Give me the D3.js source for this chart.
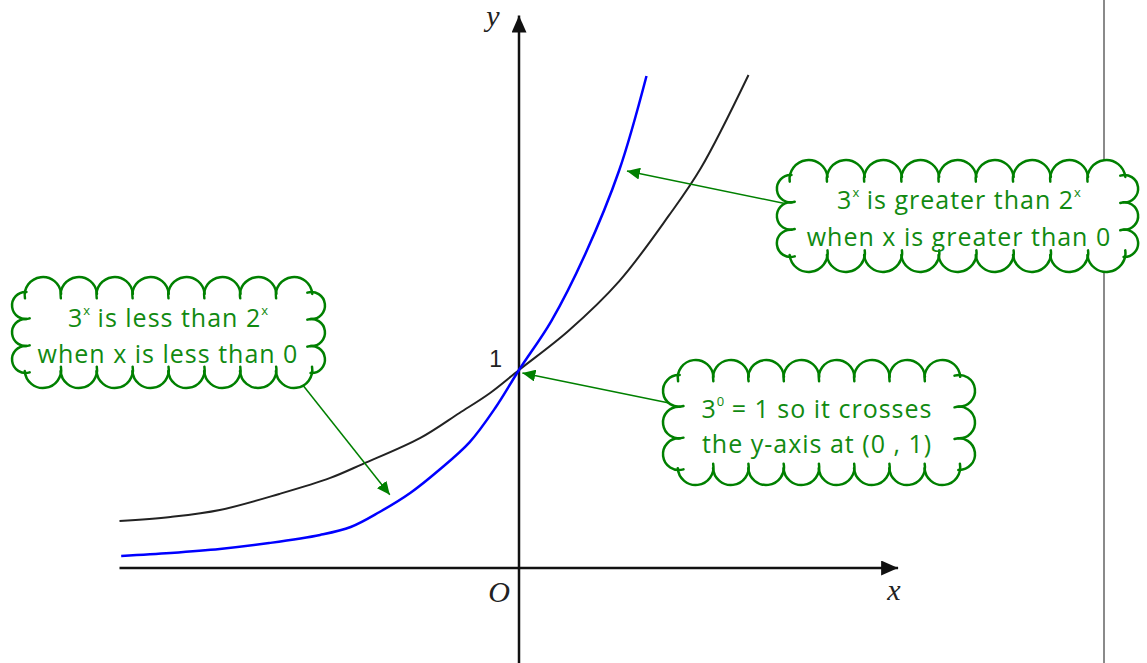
<!DOCTYPE html>
<html lang="en">
<head>
    <meta charset="UTF-8">
    <script src="https://d3js.org/d3.v7.min.js"></script>
    <style>
        body { margin: 0; background: #fff; }
        .cloud-text { font-family: "Open Sans", sans-serif; font-size: 25px; letter-spacing: 1px; fill: #118a11; }
        .axis-label { font-family: "Liberation Serif", serif; font-style: italic; font-size: 30px; fill: #222; }
    </style>
</head>
<body>
    <div id="chart"></div>
    <script>
        // curve y = 2^x (black)
        const x2 = [-2.35, -2.05, -1.76, -1.41, -1.11, -0.92, -0.58, -0.35, -0.17, 0, 0.29, 0.59, 0.88, 1.07, 1.35];
        const y2 = [0.237, 0.258, 0.293, 0.374, 0.455, 0.525, 0.657, 0.783, 0.884, 1, 1.197, 1.449, 1.778, 2.02, 2.49];
        // curve y = 3^x (blue)
        const x3 = [-2.34, -2.05, -1.76, -1.47, -1.17, -0.99, -0.82, -0.64, -0.47, -0.29, -0.14, 0, 0.19, 0.39, 0.59, 0.75];
        const y3 = [0.061, 0.076, 0.096, 0.126, 0.167, 0.207, 0.283, 0.379, 0.495, 0.636, 0.808, 1, 1.247, 1.586, 2.01, 2.485];
        const yTicks = [1];

        const W = 1147, H = 663;
        const ox = 519, oy = 568, ux = 170, uy = 198;

        const svg = d3.select("#chart").append("svg")
            .attr("width", W).attr("height", H);

        const x = d3.scaleLinear().domain([0, 1]).range([ox, ox + ux]);
        const y = d3.scaleLinear().domain([0, 1]).range([oy, oy - uy]);

        // page divider on the right
        svg.append("line")
            .attr("x1", 1104).attr("x2", 1104).attr("y1", 0).attr("y2", H)
            .attr("stroke", "#8a8a8a").attr("stroke-width", 2);

        const defs = svg.append("defs");
        function marker(id, len, wid, color) {
            defs.append("marker")
                .attr("id", id).attr("markerUnits", "userSpaceOnUse")
                .attr("viewBox", `0 ${-wid / 2} ${len} ${wid}`)
                .attr("refX", len).attr("refY", 0)
                .attr("markerWidth", len).attr("markerHeight", wid)
                .attr("orient", "auto")
                .append("path")
                .attr("d", `M0,${-wid / 2}L${len},0L0,${wid / 2}Z`)
                .attr("fill", color);
        }
        marker("axhead", 17, 15, "#111");
        marker("greenhead", 13, 12, "#008000");

        // axes
        const axes = svg.append("g");
        axes.append("line")
            .attr("x1", x(-2.35)).attr("x2", x(2.23)).attr("y1", y(0)).attr("y2", y(0))
            .attr("stroke", "#111").attr("stroke-width", 2.5).attr("marker-end", "url(#axhead)");
        axes.append("line")
            .attr("x1", x(0)).attr("x2", x(0)).attr("y1", y(-0.48)).attr("y2", y(2.79))
            .attr("stroke", "#111").attr("stroke-width", 2.5).attr("marker-end", "url(#axhead)");

        axes.append("text").attr("class", "axis-label")
            .attr("x", 894).attr("y", 600).attr("text-anchor", "middle").text("x");
        axes.append("text").attr("class", "axis-label")
            .attr("x", 493).attr("y", 26).attr("text-anchor", "middle").text("y");
        axes.append("text").attr("class", "axis-label")
            .attr("x", 499).attr("y", 602).attr("text-anchor", "middle").text("O");

        axes.selectAll(".ytick").data(yTicks).enter().append("text")
            .attr("class", "ytick")
            .attr("x", x(0) - 17).attr("y", d => y(d) - 3)
            .attr("text-anchor", "end")
            .attr("font-family", "Liberation Sans, Arial, sans-serif")
            .attr("font-size", 23).attr("fill", "#222")
            .text(d => d);

        // curves
        const line = d3.line().x(d => x(d[0])).y(d => y(d[1])).curve(d3.curveCatmullRom.alpha(0.5));
        svg.append("path")
            .attr("d", line(d3.zip(x2, y2)))
            .attr("fill", "none").attr("stroke", "#222").attr("stroke-width", 2);
        svg.append("path")
            .attr("d", line(d3.zip(x3, y3)))
            .attr("fill", "none").attr("stroke", "#0000ff").attr("stroke-width", 2.5);

        // annotation arrows: start in pixels, target in data units
        const arrows = [
            {sx: 298, sy: 379, tx: -0.76, ty: 0.37},
            {sx: 792, sy: 205, tx: 0.635, ty: 2.005},
            {sx: 674, sy: 404, tx: 0.02, ty: 0.985}
        ];
        svg.selectAll(".arrow").data(arrows).enter().append("line")
            .attr("class", "arrow")
            .attr("x1", d => d.sx).attr("y1", d => d.sy)
            .attr("x2", d => x(d.tx)).attr("y2", d => y(d.ty))
            .attr("stroke", "#008000").attr("stroke-width", 1.5)
            .attr("marker-end", "url(#greenhead)");

        // clouds
        function cloud(box, nx, ny) {
            const b = 15;
            const x0 = box.x0 + b, x1 = box.x1 - b, y0 = box.y0 + b, y1 = box.y1 - b;
            const pts = [];
            for (let i = 0; i < nx; i++) pts.push([x0 + (x1 - x0) * i / nx, y0]);
            for (let j = 0; j < ny; j++) pts.push([x1, y0 + (y1 - y0) * j / ny]);
            for (let i = 0; i < nx; i++) pts.push([x1 - (x1 - x0) * i / nx, y1]);
            for (let j = 0; j < ny; j++) pts.push([x0, y1 - (y1 - y0) * j / ny]);
            const arcs = pts.map((A, i) => {
                const B = pts[(i + 1) % pts.length];
                const c = Math.hypot(B[0] - A[0], B[1] - A[1]);
                const dx = (B[0] - A[0]) / c, dy = (B[1] - A[1]) / c;
                const nxo = dy, nyo = -dx;
                const bb = Math.min(b, c * 0.48);
                const r = (c * c / 4 + bb * bb) / (2 * bb);
                const cx = (A[0] + B[0]) / 2 - nxo * (r - bb);
                const cy = (A[1] + B[1]) / 2 - nyo * (r - bb);
                let a0 = Math.atan2(A[1] - cy, A[0] - cx);
                let a1 = Math.atan2(B[1] - cy, B[0] - cx);
                while (a1 < a0) a1 += 2 * Math.PI;
                return {cx, cy, r, a0, a1};
            });
            const fill = d3.path();
            arcs.forEach((a, i) => {
                if (i === 0) fill.moveTo(a.cx + a.r * Math.cos(a.a0), a.cy + a.r * Math.sin(a.a0));
                fill.arc(a.cx, a.cy, a.r, a.a0, a.a1, false);
            });
            fill.closePath();
            const g = svg.append("g");
            g.append("path").attr("d", fill.toString()).attr("fill", "#fff").attr("stroke", "none");
            const ext = 0.35;
            arcs.forEach(a => {
                const p = d3.path();
                p.moveTo(a.cx + a.r * Math.cos(a.a0 - ext), a.cy + a.r * Math.sin(a.a0 - ext));
                p.arc(a.cx, a.cy, a.r, a.a0 - ext, a.a1 + ext * 0.3, false);
                g.append("path").attr("d", p.toString())
                    .attr("fill", "none").attr("stroke", "#008000").attr("stroke-width", 2.5)
                    .attr("stroke-linecap", "round");
            });
            return g;
        }

        const notes = [
            {box: {x0: 10, y0: 277, x1: 327, y1: 388}, nx: 8, ny: 3, cx: 168, base: [327, 363],
             lines: [[["3", 0], ["x", 1], [" is less than 2", 0], ["x", 1]], [["when x is less than 0", 0]]]},
            {box: {x0: 775, y0: 160, x1: 1140, y1: 272}, nx: 9, ny: 3, cx: 959, base: [209, 246],
             lines: [[["3", 0], ["x", 1], [" is greater than 2", 0], ["x", 1]], [["when x is greater than 0", 0]]]},
            {box: {x0: 663, y0: 360, x1: 975, y1: 485}, nx: 8, ny: 3, cx: 817, base: [418, 453],
             lines: [[["3", 0], ["0", 1], [" = 1 so it crosses", 0]], [["the y-axis at (0 , 1)", 0]]]}
        ];
        notes.forEach(n => {
            const g = cloud(n.box, n.nx, n.ny);
            n.lines.forEach((ln, i) => {
                const t = g.append("text").attr("class", "cloud-text")
                    .attr("x", n.cx).attr("y", n.base[i]).attr("text-anchor", "middle");
                ln.forEach(([s, sup]) => {
                    const ts = t.append("tspan").text(s);
                    if (sup) ts.attr("font-size", 13).attr("baseline-shift", "90%").attr("letter-spacing", 0);
                });
            });
        });
    </script>
</body>
</html>
